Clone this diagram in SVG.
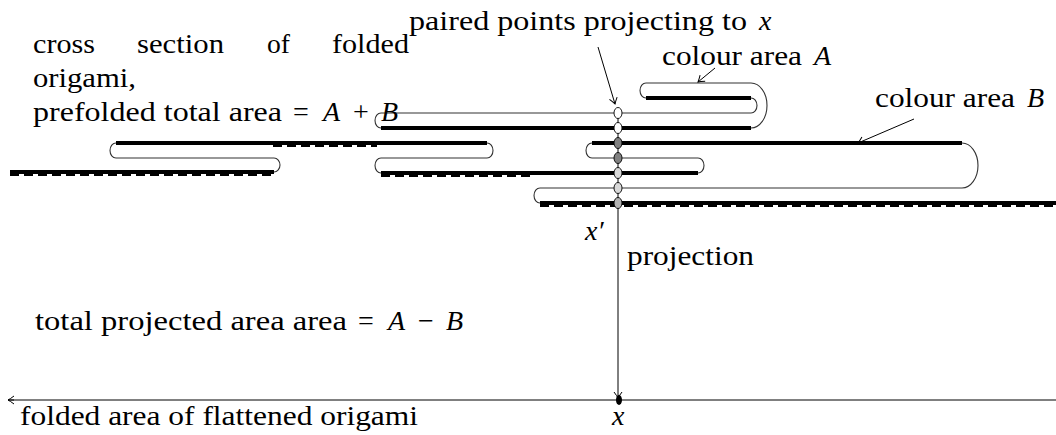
<svg xmlns="http://www.w3.org/2000/svg" width="1056" height="435" viewBox="0 0 1056 435">
<defs>
<style>
.t{font-family:"Liberation Serif","Times New Roman",serif;font-size:28px;fill:#000}
.i{font-style:italic}
.thin{fill:none;stroke:#333;stroke-width:1.1}
.thick{fill:none;stroke:#000;stroke-width:4}
.dash{fill:none;stroke:#000;stroke-width:3;stroke-dasharray:9 5}
.arr{fill:none;stroke:#000;stroke-width:1}
.pt{stroke:#000;stroke-width:0.9}
</style>
<marker id="tip" viewBox="-8 -5 10 10" refX="0" refY="0" markerWidth="10" markerHeight="10" markerUnits="userSpaceOnUse" orient="auto">
<path d="M -6 -4 Q -2 -1 0 0 Q -2 1 -6 4" fill="none" stroke="#000" stroke-width="1"/>
</marker>
</defs>
<rect width="1056" height="435" fill="#fff"/>

<g id="sheet">
<path class="thin" d="M 274 172 A 6 7 0 0 0 274 158 L 116 158 A 6 7.5 0 0 1 116 143"/>
<path class="thin" d="M 487 143 A 6 7.5 0 0 1 487 158 L 381 158 A 6 7.5 0 0 0 381 173"/>
<path class="thin" d="M 698 173 A 6 7.5 0 0 0 698 158 L 592 158 A 6 7.5 0 0 1 592 143"/>
<path class="thin" d="M 962 143 A 16 22.5 0 0 1 962 188 L 540 188 A 6 7.5 0 0 0 540 203"/>
<path class="dash" d="M 10 174.5 H 274"/>
<path class="thick" d="M 10 172 H 274"/>
<path class="dash" d="M 273 145.5 H 377"/>
<path class="thick" d="M 116 143 H 487"/>
<path class="dash" d="M 381 175.5 H 532"/>
<path class="thick" d="M 381 173 H 698"/>
<path class="thick" d="M 592 143 H 962"/>
<path class="dash" d="M 540 205.5 H 1056"/>
<path class="thick" d="M 540 203 H 1056"/>
<path class="thin" d="M 381 128 A 6 7.5 0 0 1 381 113 L 751 113 A 6 7.5 0 0 0 751 98"/>
<path class="thin" d="M 646 98 A 6 7.5 0 0 1 646 83 L 751 83 A 16 22.5 0 0 1 751 128"/>
<path class="thick" d="M 646 98 H 751"/>
<path class="thick" d="M 381 128 H 751"/>
</g>

<g id="connectors">
<path class="arr" d="M 618 113 V 398" marker-end="url(#tip)"/>
<path class="arr" d="M 8 400 H 1056"/>
<path class="arr" d="M 14 400 H 8" marker-end="url(#tip)"/>
<path class="arr" d="M 598 47 L 615 104" marker-end="url(#tip)"/>
<path class="arr" d="M 715 68 L 698 82" marker-end="url(#tip)"/>
<path class="arr" d="M 914 119 L 858 143" marker-end="url(#tip)"/>
</g>

<g id="paired-points">
<ellipse class="pt" cx="618" cy="113" rx="4" ry="5.5" fill="#fff"/>
<ellipse class="pt" cx="618" cy="128" rx="4" ry="5.5" fill="#fff"/>
<ellipse class="pt" cx="618" cy="143" rx="4" ry="5.5" fill="#808080"/>
<ellipse class="pt" cx="618" cy="158" rx="4" ry="5.5" fill="#808080"/>
<ellipse class="pt" cx="618" cy="173" rx="4" ry="5.5" fill="#d9d9d9"/>
<ellipse class="pt" cx="618" cy="188" rx="4" ry="5.5" fill="#d9d9d9"/>
<ellipse class="pt" cx="618" cy="203" rx="4" ry="5.5" fill="#b3b3b3"/>
</g>

<g id="point-x">
<ellipse cx="619" cy="400" rx="3" ry="5" fill="#000"/>
</g>

<g id="labels">
<text class="t" x="33" y="53" textLength="62" lengthAdjust="spacingAndGlyphs">cross</text>
<text class="t" x="137" y="53" textLength="87" lengthAdjust="spacingAndGlyphs">section</text>
<text class="t" x="267" y="53" textLength="23" lengthAdjust="spacingAndGlyphs">of</text>
<text class="t" x="332" y="53" textLength="77" lengthAdjust="spacingAndGlyphs">folded</text>
<text class="t" x="33" y="87" textLength="103" lengthAdjust="spacingAndGlyphs">origami,</text>
<text class="t" x="33" y="121" textLength="249" lengthAdjust="spacingAndGlyphs">prefolded total area</text>
<text class="t" x="301" y="121" text-anchor="middle">=</text>
<text class="t i" x="323" y="121">A</text>
<text class="t" x="361" y="121" text-anchor="middle">+</text>
<text class="t i" x="381" y="121">B</text>
<text class="t" x="409" y="30" textLength="338" lengthAdjust="spacingAndGlyphs">paired points projecting to</text>
<text class="t i" x="759" y="30">x</text>
<text class="t" x="662" y="65" textLength="140" lengthAdjust="spacingAndGlyphs">colour area</text>
<text class="t i" x="814" y="65">A</text>
<text class="t" x="875" y="107" textLength="140" lengthAdjust="spacingAndGlyphs">colour area</text>
<text class="t i" x="1027" y="107">B</text>
<text class="t i" x="585" y="240">x′</text>
<text class="t" x="627" y="265" textLength="127" lengthAdjust="spacingAndGlyphs">projection</text>
<text class="t" x="35" y="330" textLength="312" lengthAdjust="spacingAndGlyphs">total projected area area</text>
<text class="t" x="366" y="330" text-anchor="middle">=</text>
<text class="t i" x="388" y="330">A</text>
<text class="t" x="426" y="330" text-anchor="middle">−</text>
<text class="t i" x="446" y="330">B</text>
<text class="t" x="20" y="425" textLength="398" lengthAdjust="spacingAndGlyphs">folded area of flattened origami</text>
<text class="t i" x="612" y="425">x</text>
</g>
</svg>
